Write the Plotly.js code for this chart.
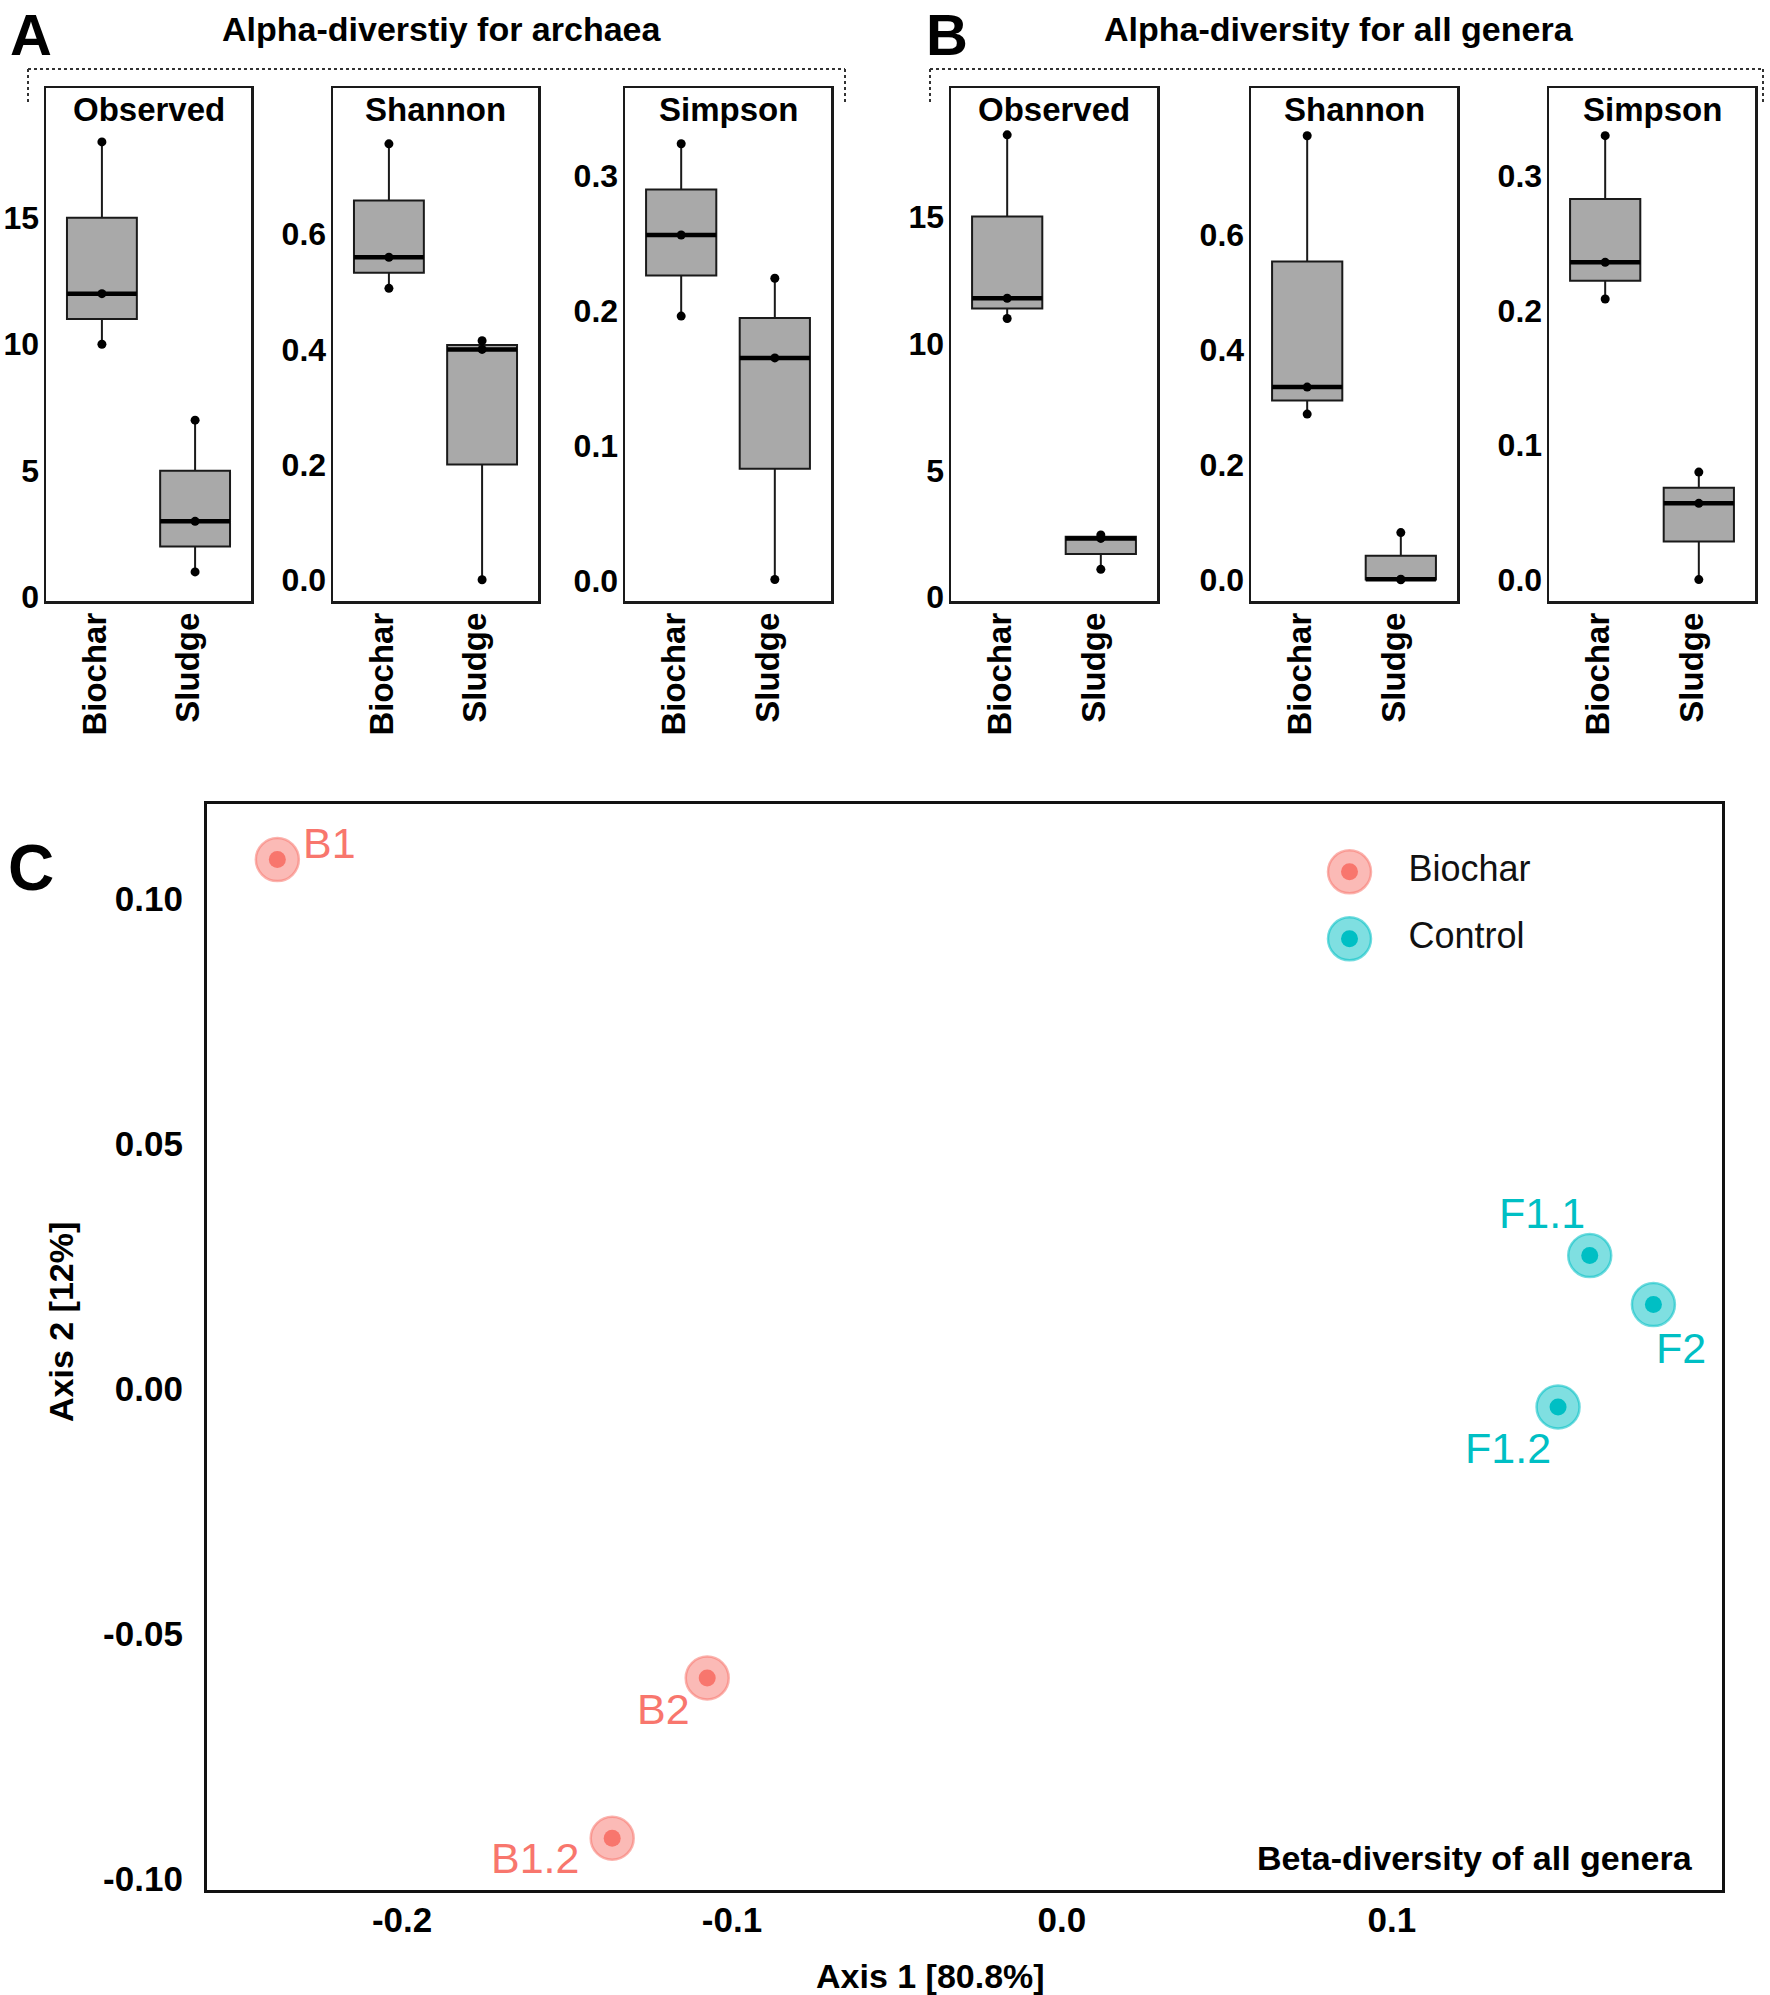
<!DOCTYPE html>
<html><head><meta charset="utf-8">
<script src="https://cdn.plot.ly/plotly-3.0.1.min.js"></script>
<style>html,body{margin:0;padding:0;background:#fff;} #chart{width:1770px;height:1995px;}</style>
</head><body><div id="chart"></div>
<script>
// ---------------- DATA ----------------
const boxCategories = ['Biochar', 'Sludge'];
const metricNames = ['Observed', 'Shannon', 'Simpson'];

// A: alpha-diversity for archaea (3 samples per group)
const archaeaObservedBiochar = [10, 12, 18];
const archaeaObservedSludge  = [1, 3, 7];
const archaeaShannonBiochar  = [0.506, 0.56, 0.757];
const archaeaShannonSludge   = [0.0, 0.40, 0.415];
const archaeaSimpsonBiochar  = [0.196, 0.256, 0.3235];
const archaeaSimpsonSludge   = [0.001, 0.165, 0.224];

// B: alpha-diversity for all genera
const generaObservedBiochar = [11, 11.8, 18.25];
const generaObservedSludge  = [1.1, 2.32, 2.46];
const generaShannonBiochar  = [0.288, 0.335, 0.772];
const generaShannonSludge   = [0.0, 0.001, 0.082];
const generaSimpsonBiochar  = [0.2086, 0.2358, 0.330];
const generaSimpsonSludge   = [0.0, 0.0567, 0.0799];

const observedTicks = [0, 5, 10, 15];
const observedTickText = ['0', '5', '10', '15'];
const shannonTicks = [0, 0.2, 0.4, 0.6];
const shannonTickText = ['0.0', '0.2', '0.4', '0.6'];
const simpsonTicks = [0, 0.1, 0.2, 0.3];
const simpsonTickText = ['0.0', '0.1', '0.2', '0.3'];

// C: beta-diversity (PCoA)
const sampleIds    = ['B1', 'B2', 'B1.2', 'F1.1', 'F2', 'F1.2'];
const sampleGroups = ['Biochar', 'Biochar', 'Biochar', 'Control', 'Control', 'Control'];
const axis1Values  = [-0.2378, -0.1075, -0.1363, 0.160, 0.1793, 0.1504];
const axis2Values  = [0.1079, -0.0591, -0.0918, 0.0271, 0.0171, -0.0038];
const groupNames   = ['Biochar', 'Control'];
const pcoaXTicks = [-0.2, -0.1, 0.0, 0.1];
const pcoaXTickText = ['-0.2', '-0.1', '0.0', '0.1'];
const pcoaYTicks = [-0.10, -0.05, 0.00, 0.05, 0.10];
const pcoaYTickText = ['-0.10', '-0.05', '0.00', '0.05', '0.10'];
const pcoaXTitle = 'Axis 1 [80.8%]';
const pcoaYTitle = 'Axis 2 [12%]';

// ---------------- STYLE ----------------
const FONT = 'Liberation Sans, Arial, Helvetica, sans-serif';
const W = 1770, H = 1995;
const px = v => v / W;
const py = v => 1 - v / H;
const groupColors = {Biochar: '#F8766D', Control: '#00BFC4'};
const groupFill   = {Biochar: 'rgba(248,118,109,0.5)', Control: 'rgba(0,191,196,0.5)'};
const groupEdge   = {Biochar: 'rgba(248,118,109,0.55)', Control: 'rgba(0,191,196,0.55)'};
const labelShift  = {'B1': [52, 17], 'B2': [-44, -31], 'B1.2': [-77, -20],
                     'F1.1': [-48, 43], 'F2': [28, -43], 'F1.2': [-50, -41]};

const panels = [
  {data: [archaeaObservedBiochar, archaeaObservedSludge], metric: 0, x0: 46,   x1: 251,  range: [-0.15, 20.13],   tv: observedTicks, tt: observedTickText},
  {data: [archaeaShannonBiochar,  archaeaShannonSludge],  metric: 1, x0: 333,  x1: 538,  range: [-0.037, 0.854],  tv: shannonTicks,  tt: shannonTickText},
  {data: [archaeaSimpsonBiochar,  archaeaSimpsonSludge],  metric: 2, x0: 625,  x1: 831,  range: [-0.0149, 0.3648],tv: simpsonTicks,  tt: simpsonTickText},
  {data: [generaObservedBiochar,  generaObservedSludge],  metric: 0, x0: 951,  x1: 1157, range: [-0.15, 20.1],    tv: observedTicks, tt: observedTickText},
  {data: [generaShannonBiochar,   generaShannonSludge],   metric: 1, x0: 1251, x1: 1457, range: [-0.037, 0.855],  tv: shannonTicks,  tt: shannonTickText},
  {data: [generaSimpsonBiochar,   generaSimpsonSludge],   metric: 2, x0: 1549, x1: 1755, range: [-0.0159, 0.3654],tv: simpsonTicks,  tt: simpsonTickText}
];

function median(arr) {
  const s = arr.slice().sort((a, b) => a - b);
  const m = Math.floor(s.length / 2);
  return s.length % 2 ? s[m] : (s[m - 1] + s[m]) / 2;
}

const traces = [];
const annotations = [];
const layout = {
  width: W, height: H,
  margin: {l: 0, r: 0, t: 0, b: 0},
  paper_bgcolor: '#fff', plot_bgcolor: '#fff',
  showlegend: false,
  font: {family: FONT, color: '#000'},
  annotations: annotations,
  shapes: []
};

const bold = (size) => ({family: FONT, size: size, color: '#000', weight: 'bold'});

const BOX_HALF = 0.375;
panels.forEach((p, i) => {
  const s = i === 0 ? '' : String(i + 1);
  const xa = 'x' + s, ya = 'y' + s;
  p.data.forEach((vals, j) => {
    const pos = j + 1;
    traces.push({
      type: 'box', x: vals.map(() => pos), y: vals, xaxis: xa, yaxis: ya,
      boxpoints: false, width: 0.75, whiskerwidth: 0, quartilemethod: 'inclusive',
      fillcolor: '#a9a9a9', line: {color: '#1a1a1a', width: 2}, hoverinfo: 'skip'
    });
    const med = median(vals);
    traces.push({
      type: 'scatter', mode: 'lines', x: [pos - BOX_HALF, pos + BOX_HALF], y: [med, med],
      xaxis: xa, yaxis: ya, line: {color: '#000', width: 4.5}, hoverinfo: 'skip'
    });
    traces.push({
      type: 'scatter', mode: 'markers', x: vals.map(() => pos), y: vals,
      xaxis: xa, yaxis: ya, marker: {color: '#000', size: 9}, hoverinfo: 'skip'
    });
  });
  layout['xaxis' + s] = {
    domain: [px(p.x0), px(p.x1)], range: [0.4, 2.6], anchor: ya,
    tickvals: boxCategories.map((c, k) => k + 1), ticktext: boxCategories,
    tickangle: -90, tickfont: bold(33),
    showline: true, mirror: true, linecolor: '#1a1a1a', linewidth: 2.5,
    showgrid: false, zeroline: false, ticks: '', ticklabelstandoff: -4, ticklabelshift: -7
  };
  layout['yaxis' + s] = {
    domain: [py(601), py(88)], range: p.range, anchor: xa,
    tickvals: p.tv, ticktext: p.tt,
    tickfont: bold(32),
    showline: true, mirror: true, linecolor: '#1a1a1a', linewidth: 2.5,
    showgrid: false, zeroline: false, ticks: '', ticklabelstandoff: -2
  };
  annotations.push({
    xref: xa + ' domain', yref: ya + ' domain', x: 0.5, y: 1, yshift: -21,
    xanchor: 'center', yanchor: 'middle', showarrow: false,
    text: metricNames[p.metric], font: bold(33)
  });
});

// ---- Panel C ----
groupNames.forEach(g => {
  const idx = sampleGroups.map((gg, k) => gg === g ? k : -1).filter(k => k >= 0);
  traces.push({
    type: 'scatter', mode: 'markers', xaxis: 'x7', yaxis: 'y7',
    x: idx.map(k => axis1Values[k]), y: idx.map(k => axis2Values[k]),
    marker: {size: 43, color: groupFill[g], line: {color: groupEdge[g], width: 2.5}}, hoverinfo: 'skip'
  });
  traces.push({
    type: 'scatter', mode: 'markers', xaxis: 'x7', yaxis: 'y7',
    x: idx.map(k => axis1Values[k]), y: idx.map(k => axis2Values[k]),
    marker: {size: 17, color: groupColors[g]}, hoverinfo: 'skip', name: g
  });
});
sampleIds.forEach((id, k) => {
  annotations.push({
    xref: 'x7', yref: 'y7', x: axis1Values[k], y: axis2Values[k],
    xshift: labelShift[id][0], yshift: labelShift[id][1],
    xanchor: 'center', yanchor: 'middle', showarrow: false, text: id,
    font: {family: FONT, size: 43, color: groupColors[sampleGroups[k]]}
  });
});

layout.xaxis7 = {
  domain: [px(207.4), px(1721.7)], range: [-0.259, 0.2], anchor: 'y7',
  tickvals: pcoaXTicks, ticktext: pcoaXTickText,
  tickfont: bold(35),
  showline: true, mirror: true, linecolor: '#111', linewidth: 3.5,
  showgrid: false, zeroline: false, ticks: '', ticklabelstandoff: -3
};
layout.yaxis7 = {
  domain: [py(1889.7), py(804.2)], range: [-0.1023, 0.1192], anchor: 'x7',
  tickvals: pcoaYTicks, ticktext: pcoaYTickText,
  tickfont: bold(35),
  showline: true, mirror: true, linecolor: '#111', linewidth: 3.5,
  showgrid: false, zeroline: false, ticks: '', ticklabelstandoff: 14
};
// axis titles of panel C
annotations.push({xref: 'paper', yref: 'paper', x: px(931), y: py(1976), xanchor: 'center', yanchor: 'middle',
  showarrow: false, text: pcoaXTitle, font: bold(34)});
annotations.push({xref: 'paper', yref: 'paper', x: px(61), y: py(1322), xanchor: 'center', yanchor: 'middle',
  textangle: -90, showarrow: false, text: pcoaYTitle, font: bold(34)});

// ---- Legend drawn as its own small subplot ----
const legendRows = groupNames.map((g, i) => groupNames.length - 1 - i);
traces.push({
  type: 'scatter', mode: 'markers', xaxis: 'x8', yaxis: 'y8',
  x: groupNames.map(() => 0), y: legendRows,
  marker: {size: 43, color: groupNames.map(g => groupFill[g]),
           line: {color: groupNames.map(g => groupEdge[g]), width: 2.5}}, hoverinfo: 'skip'
});
traces.push({
  type: 'scatter', mode: 'markers', xaxis: 'x8', yaxis: 'y8',
  x: groupNames.map(() => 0), y: legendRows,
  marker: {size: 17, color: groupNames.map(g => groupColors[g])}, hoverinfo: 'skip'
});
traces.push({
  type: 'scatter', mode: 'text', xaxis: 'x8', yaxis: 'y8',
  x: groupNames.map(() => 2), y: legendRows, text: groupNames,
  textposition: 'middle right', textfont: {family: FONT, size: 36, color: '#111'}, hoverinfo: 'skip'
});
layout.xaxis8 = {domain: [px(1320), px(1556)], range: [-1, 7], anchor: 'y8', visible: false};
layout.yaxis8 = {domain: [py(972.3), py(838.3)], range: [-0.5, 1.5], anchor: 'x8', visible: false};

// ---- Titles, letters, notes ----
annotations.push({xref: 'paper', yref: 'paper', x: px(441), y: py(29), xanchor: 'center', yanchor: 'middle',
  showarrow: false, text: 'Alpha-diverstiy for archaea', font: bold(34)});
annotations.push({xref: 'paper', yref: 'paper', x: px(1339), y: py(29), xanchor: 'center', yanchor: 'middle',
  showarrow: false, text: 'Alpha-diversity for all genera', font: bold(34)});
annotations.push({xref: 'paper', yref: 'paper', x: px(8), y: 1, xanchor: 'left', yanchor: 'top',
  showarrow: false, text: 'A', font: bold(58)});
annotations.push({xref: 'paper', yref: 'paper', x: px(924), y: 1, xanchor: 'left', yanchor: 'top',
  showarrow: false, text: 'B', font: bold(58)});
annotations.push({xref: 'paper', yref: 'paper', x: px(6), y: py(868), xanchor: 'left', yanchor: 'middle',
  showarrow: false, text: 'C', font: bold(64)});
annotations.push({xref: 'paper', yref: 'paper', x: px(1695), y: py(1858), xanchor: 'right', yanchor: 'middle',
  showarrow: false, text: 'Beta-diversity of all genera', font: bold(34)});

// dotted brackets above panel groups A and B
function bracket(x0, x1, yTop, yBot) {
  const st = {color: '#333', width: 2, dash: 'dot'};
  return [
    {type: 'line', xref: 'paper', yref: 'paper', x0: px(x0), x1: px(x1), y0: py(yTop), y1: py(yTop), line: st},
    {type: 'line', xref: 'paper', yref: 'paper', x0: px(x0), x1: px(x0), y0: py(yTop), y1: py(yBot), line: st},
    {type: 'line', xref: 'paper', yref: 'paper', x0: px(x1), x1: px(x1), y0: py(yTop), y1: py(yBot), line: st}
  ];
}
layout.shapes = bracket(28, 845, 69, 103).concat(bracket(930, 1763, 69, 103));

Plotly.newPlot('chart', traces, layout, {staticPlot: true, displayModeBar: false});
</script>
</body></html>
